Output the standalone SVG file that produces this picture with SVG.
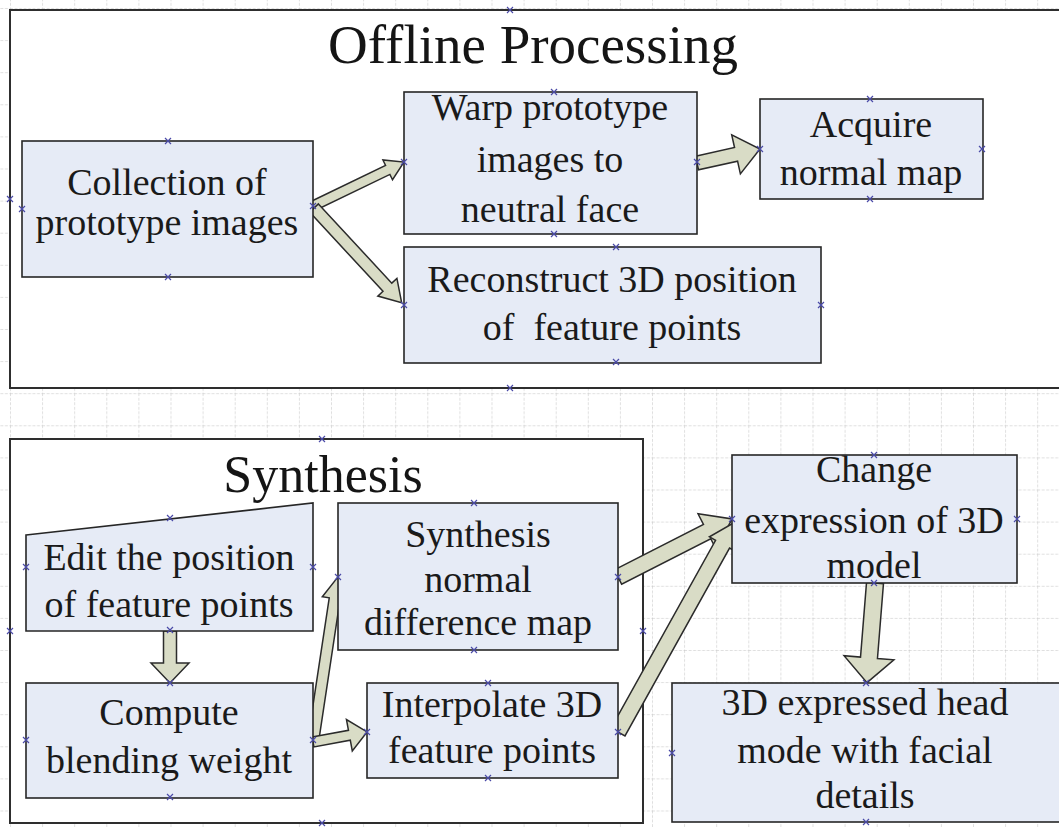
<svg xmlns="http://www.w3.org/2000/svg" width="1059" height="827" viewBox="0 0 1059 827">
  <defs>
    <pattern id="grid" patternUnits="userSpaceOnUse" x="10" y="8" width="32.1" height="32.1">
      <path d="M0,0 H32.1 M0,0 V32.1" fill="none" stroke="#c0c0c0" stroke-width="1" stroke-dasharray="3 1.5"/>
    </pattern>
    <path id="cp" d="M-3,-3 L3,3 M-3,3 L3,-3" fill="none" stroke="#4b4ba8" stroke-width="1.2"/>
    <style>
      .frame { fill: #ffffff; stroke: #2e2e2e; stroke-width: 2; }
      .box { fill: #e6ebf6; stroke: #262626; stroke-width: 1.6; }
      .arrow { fill: #d9dcc6; stroke: #2b2b2b; stroke-width: 1.5; stroke-linejoin: miter; }
      .title { font-family: "Liberation Serif", "Times New Roman", serif; fill: #151515; text-anchor: middle; }
      .lbl { font-family: "Liberation Serif", "Times New Roman", serif; font-size: 38px; fill: #1a1a1a; text-anchor: middle; }
    </style>
  </defs>

  <!-- page background with drawing grid -->
  <rect x="0" y="0" width="1059" height="827" fill="#ffffff"/>
  <rect x="0" y="0" width="1059" height="827" fill="url(#grid)"/>

  <!-- container frames -->
  <g id="offline-frame">
    <rect class="frame" x="10" y="10" width="1070" height="378"/>
    <text class="title" x="533" y="63" font-size="55">Offline Processing</text>
  </g>
  <g id="synthesis-frame">
    <rect class="frame" x="10" y="439" width="633" height="384"/>
    <text class="title" x="323" y="492" font-size="52">Synthesis</text>
  </g>

  <!-- connectors: block arrows, drawn along local x axis -->
  <g id="connectors">
    <path class="arrow" transform="translate(313,206) rotate(-25.8)" d="M0,-5 H83 V-11 L101,0 L83,11 V5 H0 Z"/>
    <path class="arrow" transform="translate(314,208) rotate(47.2)" d="M0,-6 H108 V-13 L129,0 L108,13 V6 H0 Z"/>
    <path class="arrow" transform="translate(697,163) rotate(-12.5)" d="M0,-7 H40 V-20 L64.5,0 L40,20 V7 H0 Z"/>
    <path class="arrow" transform="translate(170,631) rotate(90)" d="M0,-6.5 H32 V-19 L52,0 L32,19 V6.5 H0 Z"/>
    <path class="arrow" transform="translate(313,742) rotate(-81.4)" d="M0,-5.5 H145 V-12.5 L167,0 L145,12.5 V5.5 H0 Z"/>
    <path class="arrow" transform="translate(313,742) rotate(-10.5)" d="M0,-5 H37 V-16 L55,0 L37,16 V5 H0 Z"/>
    <path class="arrow" transform="translate(618,577) rotate(-27)" d="M0,-8 H100 V-20 L128,0 L100,20 V8 H0 Z"/>
    <path class="arrow" transform="translate(618,732) rotate(-60.9)" d="M0,-8 H215 V-15 L240,0 L215,15 V8 H0 Z"/>
    <path class="arrow" transform="translate(875,583) rotate(94.6)" d="M0,-8.5 H75 V-25 L100,0 L75,25 V8.5 H0 Z"/>
  </g>

  <!-- process nodes -->
  <g id="collection">
    <rect class="box" x="22" y="141" width="291" height="136"/>
    <text class="lbl" x="167" y="195">Collection of</text>
    <text class="lbl" x="167" y="235">prototype images</text>
  </g>
  <g id="warp">
    <rect class="box" x="404" y="92" width="293" height="142"/>
    <text class="lbl" x="550" y="120">Warp prototype</text>
    <text class="lbl" x="550" y="172">images to</text>
    <text class="lbl" x="550" y="222">neutral face</text>
  </g>
  <g id="acquire">
    <rect class="box" x="760" y="99" width="223" height="100"/>
    <text class="lbl" x="871" y="137">Acquire</text>
    <text class="lbl" x="871" y="185">normal map</text>
  </g>
  <g id="reconstruct">
    <rect class="box" x="404" y="247" width="417" height="116"/>
    <text class="lbl" x="612" y="292">Reconstruct 3D position</text>
    <text class="lbl" x="612" y="340" xml:space="preserve">of  feature points</text>
  </g>
  <g id="edit">
    <path class="box" d="M26,535 L313,503 L313,631 L26,631 Z"/>
    <text class="lbl" x="169" y="570">Edit the position</text>
    <text class="lbl" x="169" y="617">of feature points</text>
  </g>
  <g id="compute">
    <rect class="box" x="26" y="683" width="287" height="115"/>
    <text class="lbl" x="169" y="725">Compute</text>
    <text class="lbl" x="169" y="773">blending weight</text>
  </g>
  <g id="synth-normal">
    <rect class="box" x="338" y="503" width="280" height="147"/>
    <text class="lbl" x="478" y="547">Synthesis</text>
    <text class="lbl" x="478" y="592">normal</text>
    <text class="lbl" x="478" y="635">difference map</text>
  </g>
  <g id="interpolate">
    <rect class="box" x="367" y="683" width="251" height="95"/>
    <text class="lbl" x="492" y="717">Interpolate 3D</text>
    <text class="lbl" x="492" y="763">feature points</text>
  </g>
  <g id="change">
    <rect class="box" x="732" y="455" width="285" height="128"/>
    <text class="lbl" x="874" y="482">Change</text>
    <text class="lbl" x="874" y="533">expression of 3D</text>
    <text class="lbl" x="874" y="578">model</text>
  </g>
  <g id="result">
    <rect class="box" x="672" y="683" width="400" height="139"/>
    <text class="lbl" x="865" y="715">3D expressed head</text>
    <text class="lbl" x="865" y="763">mode with facial</text>
    <text class="lbl" x="865" y="808">details</text>
  </g>

  <!-- shape connection points -->
  <g id="connection-points">
    <use href="#cp" x="510" y="10"/>
    <use href="#cp" x="510" y="388"/>
    <use href="#cp" x="10" y="199"/>
    <use href="#cp" x="22" y="209"/>
    <use href="#cp" x="168" y="141"/>
    <use href="#cp" x="168" y="277"/>
    <use href="#cp" x="313" y="206"/>
    <use href="#cp" x="554" y="92"/>
    <use href="#cp" x="554" y="234"/>
    <use href="#cp" x="404" y="162"/>
    <use href="#cp" x="697" y="162"/>
    <use href="#cp" x="870" y="99"/>
    <use href="#cp" x="870" y="199"/>
    <use href="#cp" x="760" y="149"/>
    <use href="#cp" x="982" y="149"/>
    <use href="#cp" x="616" y="247"/>
    <use href="#cp" x="616" y="362"/>
    <use href="#cp" x="404" y="305"/>
    <use href="#cp" x="821" y="305"/>
    <use href="#cp" x="322" y="439"/>
    <use href="#cp" x="322" y="823"/>
    <use href="#cp" x="10" y="631"/>
    <use href="#cp" x="643" y="631"/>
    <use href="#cp" x="170" y="518"/>
    <use href="#cp" x="26" y="567"/>
    <use href="#cp" x="313" y="567"/>
    <use href="#cp" x="170" y="630"/>
    <use href="#cp" x="170" y="683"/>
    <use href="#cp" x="170" y="797"/>
    <use href="#cp" x="26" y="740"/>
    <use href="#cp" x="313" y="740"/>
    <use href="#cp" x="474" y="503"/>
    <use href="#cp" x="474" y="650"/>
    <use href="#cp" x="338" y="577"/>
    <use href="#cp" x="618" y="577"/>
    <use href="#cp" x="488" y="683"/>
    <use href="#cp" x="488" y="778"/>
    <use href="#cp" x="367" y="732"/>
    <use href="#cp" x="618" y="732"/>
    <use href="#cp" x="874" y="455"/>
    <use href="#cp" x="874" y="583"/>
    <use href="#cp" x="732" y="519"/>
    <use href="#cp" x="1017" y="519"/>
    <use href="#cp" x="866" y="683"/>
    <use href="#cp" x="866" y="822"/>
    <use href="#cp" x="672" y="753"/>
  </g>
</svg>
